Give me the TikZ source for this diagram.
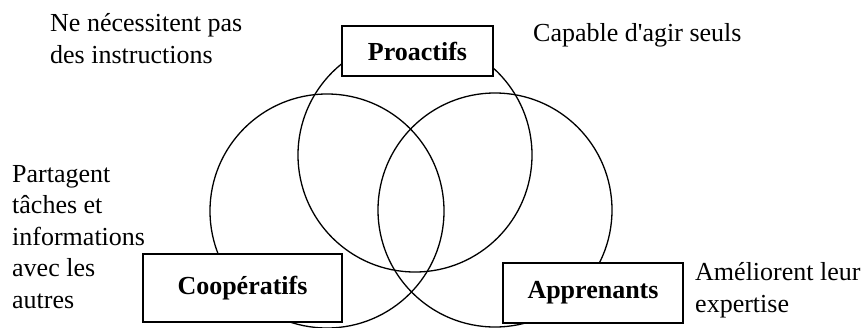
\documentclass[tikz,border=0pt]{standalone}
\usepackage{fontspec}
\setmainfont{Liberation Serif}
\usetikzlibrary{positioning}
\begin{document}
\begin{tikzpicture}[x=1pt, y=-1pt,
    every node/.style={font=\fontsize{26}{31.5}\selectfont},
    cercle/.style={draw, circle, line width=1.3pt, minimum size=234pt, inner sep=0pt},
    etiq/.style={draw, fill=white, line width=2pt, inner sep=0pt, font=\fontsize{26}{31.5}\selectfont\bfseries},
    note/.style={align=left, inner sep=0pt, anchor=base west}]
    \useasboundingbox (0,0) rectangle (867,327);
    % cercles
    \node[cercle] (cercleC) at (327,211) {};
    \node[cercle] (cercleP) at (415,155) {};
    \node[cercle] (cercleA) at (495,210) {};
    % etiquettes
    \node[etiq, minimum width=151pt, minimum height=50pt] (proactifs) at (417.5,51) {Proactifs};
    \node[etiq, minimum width=199pt, minimum height=68pt] (coop) at (242.5,288) {Coopératifs};
    \node[etiq, minimum width=180pt, minimum height=60pt] (appr) at (593,293) {Apprenants};
    % notes (base = derniere ligne)
    \node[note] (noteP) at (50,63) {Ne nécessitent pas\\des instructions};
    \node[note] (noteS) at (533,41) {Capable d\textquotesingle agir seuls};
    \node[note] (noteC) at (12,308) {Partagent\\tâches et\\informations\\avec les\\autres};
    \node[note] (noteA) at (695,312) {Améliorent leur\\expertise};
\end{tikzpicture}
\end{document}
